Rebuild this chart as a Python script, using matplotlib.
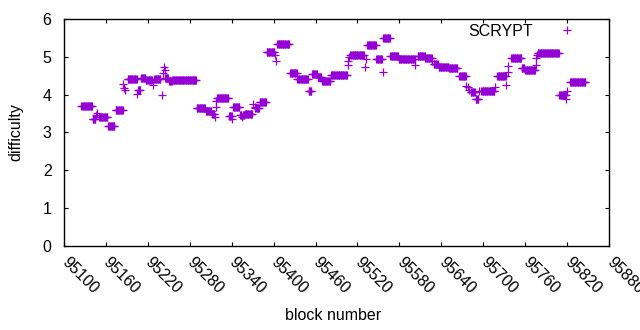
import numpy as np
import matplotlib
matplotlib.use("Agg")
import matplotlib.pyplot as plt

plt.rcParams['font.family'] = ['Liberation Sans', 'DejaVu Sans']
plt.rcParams['font.size'] = 11.5

# difficulty runs: first block, last block, difficulty
run_start = [95125, 95141, 95146, 95147, 95150, 95163, 95174, 95185, 95186, 95187,
             95191, 95205, 95206, 95210, 95217, 95227, 95229, 95240, 95242, 95243,
             95244, 95245, 95250, 95255, 95290, 95303, 95312, 95316, 95317, 95318,
             95319, 95336, 95341, 95342, 95352, 95355, 95356, 95359, 95371, 95373,
             95374, 95380, 95390, 95402, 95403, 95405, 95424, 95434, 95450, 95455,
             95463, 95469, 95482, 95506, 95507, 95508, 95510, 95531, 95532, 95534,
             95547, 95556, 95557, 95567, 95579, 95603, 95606, 95617, 95627, 95629,
             95636, 95651, 95666, 95676, 95678, 95680, 95682, 95689, 95694, 95697,
             95717, 95720, 95733, 95735, 95736, 95740, 95755, 95760, 95775, 95776,
             95777, 95778, 95809, 95818, 95819, 95820, 95824]
run_end = [95140, 95145, 95146, 95147, 95162, 95172, 95184, 95185, 95186, 95187,
           95204, 95205, 95209, 95216, 95226, 95227, 95238, 95240, 95242, 95243,
           95244, 95249, 95254, 95289, 95302, 95311, 95315, 95316, 95317, 95318,
           95335, 95340, 95341, 95351, 95354, 95355, 95358, 95369, 95371, 95373,
           95379, 95389, 95401, 95402, 95403, 95422, 95433, 95449, 95454, 95462,
           95468, 95481, 95505, 95506, 95507, 95508, 95529, 95531, 95532, 95546,
           95555, 95556, 95566, 95578, 95602, 95603, 95616, 95626, 95627, 95635,
           95650, 95663, 95675, 95676, 95678, 95680, 95688, 95693, 95694, 95716,
           95717, 95732, 95733, 95735, 95736, 95754, 95759, 95774, 95775, 95776,
           95777, 95808, 95817, 95818, 95819, 95820, 95846]
run_diff = [3.69, 3.35, 3.45, 3.50, 3.40, 3.16, 3.58, 4.28, 4.17, 4.11,
            4.40, 4.02, 4.12, 4.43, 4.38, 4.26, 4.40, 4.00, 4.57, 4.72,
            4.64, 4.45, 4.35, 4.38, 3.64, 3.56, 3.48, 3.40, 3.66, 3.82,
            3.90, 3.42, 3.36, 3.66, 3.47, 3.40, 3.47, 3.49, 3.75, 3.66,
            3.64, 3.80, 5.13, 5.06, 4.88, 5.34, 4.56, 4.40, 4.09, 4.54,
            4.46, 4.35, 4.53, 4.79, 4.88, 4.99, 5.04, 4.72, 4.93, 5.30,
            4.93, 4.60, 5.49, 5.01, 4.93, 4.77, 5.01, 4.98, 4.88, 4.81,
            4.73, 4.70, 4.50, 4.22, 4.20, 4.13, 4.06, 3.88, 4.10, 4.10,
            4.19, 4.48, 4.26, 4.75, 4.60, 4.96, 4.71, 4.66, 4.77, 4.97,
            5.06, 5.09, 3.98, 3.89, 3.98, 4.09, 4.33]

xticks = list(range(95100, 95881, 60))
yticks = [0, 1, 2, 3, 4, 5, 6]

blocks = np.concatenate([np.arange(s, e + 1) for s, e in zip(run_start, run_end)])
diffs = np.concatenate([[d] * (e - s + 1) for s, e, d in zip(run_start, run_end, run_diff)])

fig = plt.figure(figsize=(6.4, 3.3), dpi=100)
ax = fig.add_axes([64 / 640, 1 - 245.7 / 330, 545 / 640, 226.7 / 330])

ax.plot(blocks, diffs, linestyle='none', marker='+', color='#9400d3',
        markersize=6.2, markeredgewidth=0.9, label='SCRYPT')

ax.set_xlim(95100, 95880)
ax.set_ylim(0, 6)
ax.set_xticks(xticks)
ax.set_yticks(yticks)
ax.tick_params(direction='in', length=3, width=0.8, top=True, right=True, colors='black')
ax.tick_params(axis='y', pad=9)
ax.tick_params(axis='x', pad=10)
for lab in ax.get_xticklabels():
    lab.set_rotation(-45)
    lab.set_ha('left')
    lab.set_va('center')
    lab.set_rotation_mode('anchor')
for sp in ax.spines.values():
    sp.set_linewidth(1.0)

ax.set_xlabel('block number')
ax.xaxis.label.set_va('center')
ax.xaxis.set_label_coords(0.4936, -0.31)
ax.set_ylabel('difficulty')
ax.yaxis.label.set_va('center')
ax.yaxis.set_label_coords(-0.088, 0.5)

ax.legend(loc='upper right', frameon=False, markerfirst=False, handlelength=2.5,
          handletextpad=0.87, borderpad=0, borderaxespad=0,
          bbox_to_anchor=(587 / 640, 1 - 23.5 / 330), bbox_transform=fig.transFigure)

fig.savefig('out.png', dpi=100)
